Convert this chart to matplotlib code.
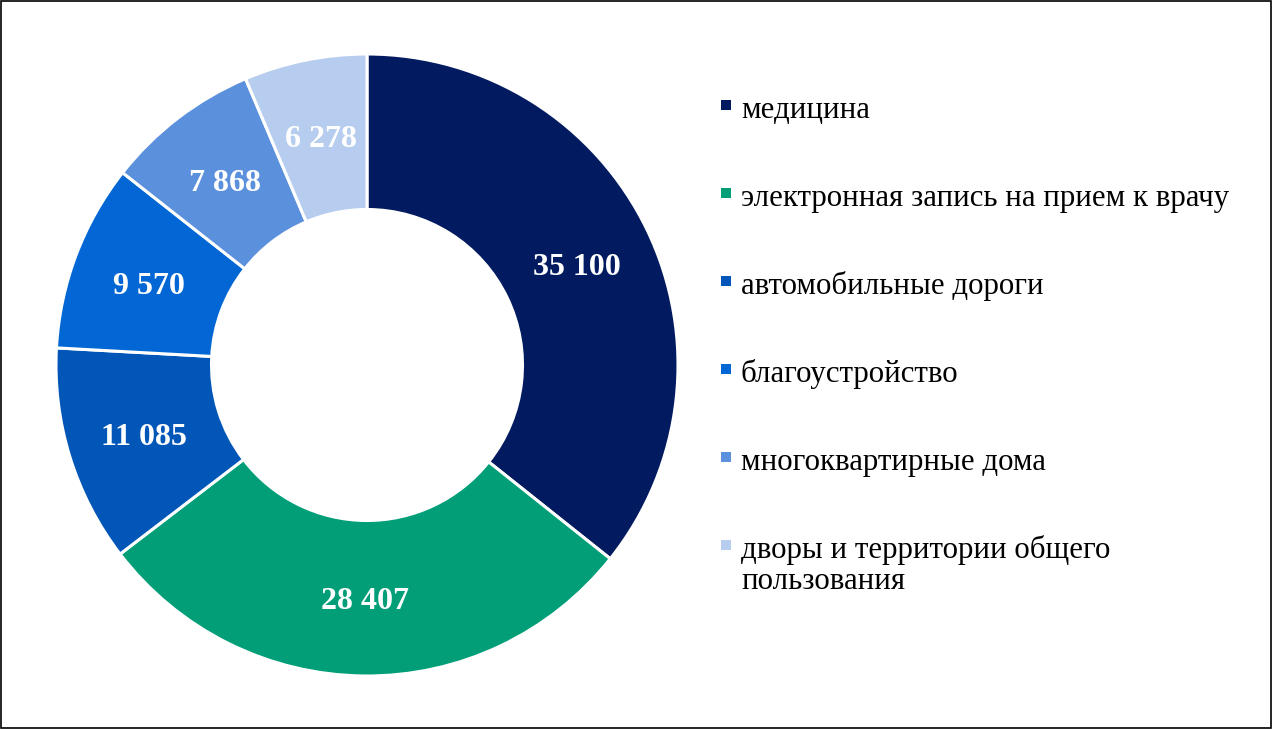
import matplotlib.pyplot as plt
from matplotlib.patches import Rectangle

# данные
categories = ['медицина', 'электронная запись на прием к врачу', 'автомобильные дороги',
              'благоустройство', 'многоквартирные дома', 'дворы и территории общего\nпользования']
values = [35100, 28407, 11085, 9570, 7868, 6278]
value_labels = ['35 100', '28 407', '11 085', '9 570', '7 868', '6 278']
colors = ['#021B60', '#019E78', '#0256B8', '#0267D4', '#5B90DD', '#B7CDEF']

plt.rcParams['font.family'] = ['Liberation Serif', 'DejaVu Serif']

fig = plt.figure(figsize=(12.73, 7.29), dpi=100)
ax = fig.add_axes([56 / 1273, 53 / 729, 622 / 1273, 622 / 729])

wedges, texts = ax.pie(values, colors=colors, labels=value_labels, labeldistance=0.75,
                       startangle=90, counterclock=False, radius=1,
                       wedgeprops=dict(width=0.5, edgecolor='white', linewidth=2.2),
                       textprops=dict(color='white', fontsize=23, fontweight='bold',
                                      ha='center', va='center_baseline'))
ax.set_xlim(-1, 1)
ax.set_ylim(-1, 1)
ax.set_aspect('equal')

# легенда справа
W, H = 1273, 729
base0 = 118
step = 88
line_h = 31
for i, (name, c) in enumerate(zip(categories, colors)):
    yb = base0 + i * step
    fig.add_artist(Rectangle((721 / W, 1 - (yb - 8) / H), 10 / W, 10 / H,
                             transform=fig.transFigure, facecolor=c, edgecolor='none'))
    # перенос строк — каждая строка отдельно, чтобы маркер был у первой
    for j, line in enumerate(name.split('\n')):
        fig.text(741 / W, 1 - (yb + j * line_h) / H, line, fontsize=22.2,
                 va='baseline', ha='left', color='black')

# рамка
fig.add_artist(Rectangle((0.0005, 0.001), 0.998, 0.997, transform=fig.transFigure,
                         facecolor='none', edgecolor='black', linewidth=1.2))

fig.savefig('out.png', dpi=100)
